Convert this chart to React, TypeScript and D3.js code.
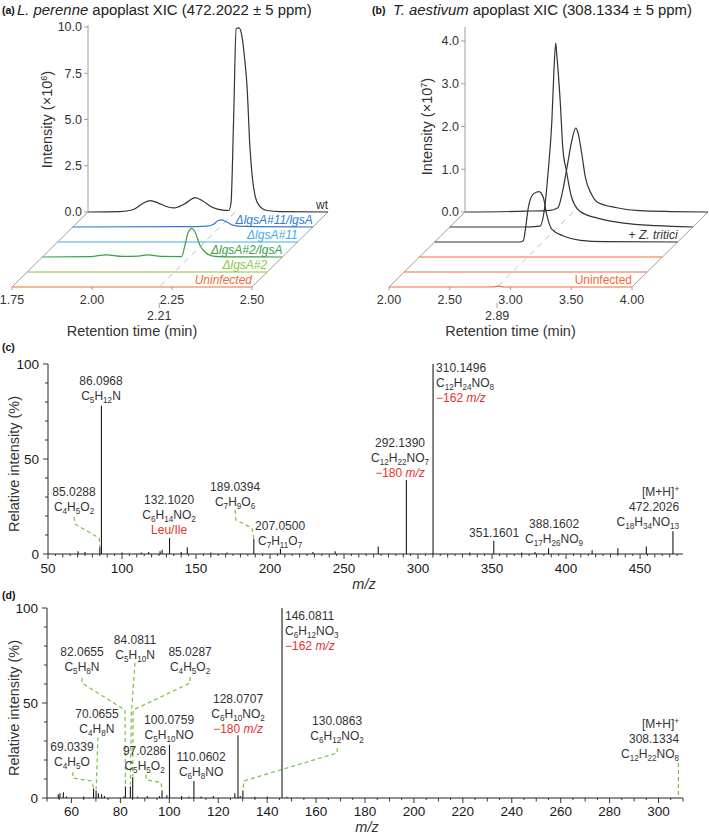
import React from "react";
import * as d3 from "d3";

type Pt = [number, number];

const FONT = "'Liberation Sans', Arial, Helvetica, sans-serif";
const INK = "#333333";
const RED = "#e8322c";
const GREEN = "#7cc242";
const ORANGE = "#f26a3d";
const AXIS_GREY = "#a0a0a0";

// ---------------- Panel (a): L. perenne apoplast XIC (intensity x10^6) ----------------
const aLabels = ["wt", "ΔlgsA#11/lgsA", "ΔlgsA#11", "ΔlgsA#2/lgsA", "ΔlgsA#2", "Uninfected"];
const aWt: Pt[] = [[1.75, 0], [1.85, 0.02], [1.89, 0.12], [1.92, 0.45], [1.945, 0.62], [1.97, 0.48], [2.0, 0.27], [2.02, 0.22], [2.05, 0.42], [2.085, 0.78], [2.11, 0.58], [2.14, 0.24], [2.17, 0.1], [2.19, 0.08], [2.197, 0.5], [2.205, 5.0], [2.213, 9.9], [2.222, 9.95], [2.232, 9.4], [2.24, 8.2], [2.247, 6.8], [2.256, 3.5], [2.264, 1.8], [2.272, 0.9], [2.285, 0.35], [2.31, 0.08], [2.35, 0.02], [2.5, 0]];
const aComp11: Pt[] = [[1.75, 0], [2.1, 0.02], [2.17, 0.05], [2.19, 0.15], [2.205, 0.35], [2.215, 0.38], [2.23, 0.28], [2.25, 0.1], [2.28, 0.03], [2.5, 0]];
const aDel11: Pt[] = [[1.75, 0], [2.5, 0]];
const aComp2: Pt[] = [[1.75, 0], [1.9, 0.02], [1.95, 0.12], [2.0, 0.03], [2.05, 0.05], [2.08, 0.12], [2.12, 0.03], [2.185, 0.02], [2.195, 0.6], [2.205, 1.3], [2.217, 1.55], [2.227, 1.35], [2.242, 0.65], [2.258, 0.27], [2.283, 0.05], [2.32, 0.01], [2.5, 0]];
const aDel2: Pt[] = [[1.75, 0], [2.5, 0]];
const aUninf: Pt[] = [[1.75, 0], [2.5, 0]];
const aXTicks = [1.75, 2.0, 2.25, 2.5];
const aYTicks = [0, 2.5, 5, 7.5, 10];
const aMarkRT = 2.21;

// ---------------- Panel (b): T. aestivum apoplast XIC (intensity x10^7) ----------------
const bInf1: Pt[] = [[2, 0], [2.5, 0.02], [2.7, 0.04], [2.765, 0.1], [2.8, 0.44], [2.84, 1.05], [2.88, 1.68], [2.912, 1.96], [2.93, 1.85], [2.96, 1.38], [2.99, 0.82], [3.04, 0.42], [3.09, 0.23], [3.25, 0.1], [3.44, 0.03], [3.7, 0.01], [4, 0]];
const bInf2: Pt[] = [[2, 0], [2.6, 0], [2.742, 0.02], [2.78, 0.44], [2.81, 1.31], [2.84, 2.48], [2.857, 3.65], [2.872, 4.3], [2.88, 4.05], [2.91, 2.88], [2.93, 1.85], [2.96, 1.31], [3.0, 0.72], [3.07, 0.37], [3.24, 0.19], [3.43, 0.09], [3.7, 0.03], [4, 0]];
const bInf3: Pt[] = [[2, 0], [2.7, 0], [2.73, 0.03], [2.75, 0.35], [2.771, 0.8], [2.812, 1.12], [2.859, 1.18], [2.895, 1.04], [2.922, 0.65], [2.964, 0.3], [3.06, 0.14], [3.2, 0.04], [3.4, 0.01], [4, 0]];
const bUn1: Pt[] = [[2, 0], [4, 0]];
const bUn2: Pt[] = [[2, 0], [4, 0]];
const bUn3: Pt[] = [[2, 0], [2.85, 0], [2.9, 0.02], [2.95, 0], [4, 0]];
const bXTicks = [2.0, 2.5, 3.0, 3.5, 4.0];
const bYTicks = [0, 1, 2, 3, 4];
const bMarkRT = 2.89;

// ---------------- Panel (c): MS/MS of 472.2026 ----------------
const cPeaks: Pt[] = [[70.3, 1.5], [75, 1], [85.03, 3.5], [86.0968, 78], [100, 0.8], [113, 0.8], [118, 1], [125.7, 1.5], [127.1, 2.2], [132.102, 8.5], [140, 1], [144.1, 3.5], [160, 0.8], [171, 0.8], [189.0394, 8], [207.05, 2.8], [229, 1], [244, 1.5], [273.1, 4], [292.139, 39], [310.1496, 100], [335, 0.8], [351.1601, 7], [370, 0.8], [379, 1], [388.1602, 3], [417.6, 2], [435, 3], [454.2, 4], [472.2026, 12]];
const cAnnots = [
  { at: [85.8, 91.1], align: "middle", lines: ["86.0968", "=C5H12N"] },
  { at: [67.6, 32.6], align: "middle", lines: ["85.0288", "=C4H5O2"] },
  { at: [131.8, 28.4], align: "middle", lines: ["132.1020", "=C6H14NO2", "!Leu/Ile"] },
  { at: [176.4, 35.3], align: "middle", lines: ["189.0394", "=C7H9O6"] },
  { at: [206.8, 14.7], align: "middle", lines: ["207.0500", "=C7H11O7"] },
  { at: [287.8, 58.4], align: "middle", lines: ["292.1390", "=C12H22NO7", "!−180 *m/z*"] },
  { at: [312.2, 97.9], align: "start", lines: ["310.1496", "=C12H24NO8", "!−162 *m/z*"] },
  { at: [351.4, 11.1], align: "middle", lines: ["351.1601"] },
  { at: [391.9, 15.8], align: "middle", lines: ["388.1602", "=C17H26NO9"] },
  { at: [476.4, 32.6], align: "end", lines: ["^[M+H]+", "472.2026", "=C18H34NO13"] },
];
const cLeaders: Pt[][] = [
  [[67.6, 19.5], [68.2, 15.8], [84.6, 8.4], [85.03, 3.5]],
  [[176.4, 23.2], [177, 17.9], [187.8, 13.7], [189.04, 8.4]],
];
const cXTicks = [50, 100, 150, 200, 250, 300, 350, 400, 450];

// ---------------- Panel (d): MS/MS of 308.1334 ----------------
const dPeaks: Pt[] = [[54.6, 2], [55.3, 2.5], [56.7, 3], [58, 0.8], [65, 0.8], [69.0339, 5], [70.0655, 4], [71, 2.5], [72.3, 2], [73.5, 1], [81.5, 0.8], [82.0655, 6], [84.0811, 6], [85.0287, 11], [87, 0.7], [91, 1], [96, 1], [97.0286, 4], [99, 1.5], [100.0759, 28], [105, 1], [108, 0.8], [110.0602, 9], [113, 0.8], [118, 1], [126.8, 2.5], [128.0707, 33], [129, 1], [130.0863, 4], [135, 0.6], [140, 0.8], [146.0811, 100], [148, 0.6]];
const dAnnots = [
  { at: [147.3, 95.8], align: "start", lines: ["146.0811", "=C6H12NO3", "!−162 *m/z*"] },
  { at: [86.0, 83.2], align: "middle", lines: ["84.0811", "=C5H10N"] },
  { at: [64.3, 76.8], align: "middle", lines: ["82.0655", "=C5H8N"] },
  { at: [108.5, 76.8], align: "middle", lines: ["85.0287", "=C4H5O2"] },
  { at: [70.4, 44.2], align: "middle", lines: ["70.0655", "=C4H8N"] },
  { at: [60.2, 26.8], align: "middle", lines: ["69.0339", "=C4H5O"] },
  { at: [89.9, 25.0], align: "middle", lines: ["97.0286", "=C5H5O2"] },
  { at: [99.9, 41.1], align: "middle", lines: ["100.0759", "=C5H10NO"] },
  { at: [113.0, 21.6], align: "middle", lines: ["110.0602", "=C6H8NO"] },
  { at: [128.1, 52.1], align: "middle", lines: ["128.0707", "=C6H10NO2", "!−180 *m/z*"] },
  { at: [168.6, 40.5], align: "middle", lines: ["130.0863", "=C6H12NO2"] },
  { at: [308.4, 38.9], align: "end", lines: ["^[M+H]+", "308.1334", "=C12H22NO8"] },
];
const dLeaders: Pt[][] = [
  [[86.0, 71.1], [84.5, 45.3], [84.08, 7]],
  [[64.3, 63.2], [64.3, 60.5], [81.9, 46.3], [82.07, 6.5]],
  [[108.5, 63.7], [108.5, 60.5], [85.2, 46.3], [85.03, 11.5]],
  [[70.8, 32], [70.2, 8], [70.07, 4.5]],
  [[60.6, 13.7], [60.6, 10.5], [68.4, 8.9], [69.03, 5.3]],
  [[90.5, 12.2], [90.5, 9.6], [96.6, 8.2], [97.03, 4.2]],
  [[168.6, 26.3], [168.6, 23.7], [130.5, 9], [130.09, 4.2]],
  [[308.13, 18.4], [308.13, 0.5]],
];
const dXTicks = [60, 80, 100, 120, 140, 160, 180, 200, 220, 240, 260, 280, 300];

// ---------------- helpers ----------------
type Seg = { t: string; sub?: boolean; sup?: boolean; it?: boolean };

function parseLine(s: string): { segs: Seg[]; color: string } {
  if (s.startsWith("=")) {
    const parts = s.slice(1).match(/[A-Z][a-z]?\d*/g) || [];
    const segs: Seg[] = [];
    parts.forEach((p) => {
      const m = p.match(/^([A-Z][a-z]?)(\d*)$/);
      if (m) {
        segs.push({ t: m[1] });
        if (m[2]) segs.push({ t: m[2], sub: true });
      }
    });
    return { segs, color: INK };
  }
  if (s.startsWith("!")) {
    const segs: Seg[] = s
      .slice(1)
      .split("*")
      .map((p, i) => ({ t: p, it: i % 2 === 1 }))
      .filter((g) => g.t.length > 0);
    return { segs, color: RED };
  }
  if (s.startsWith("^")) {
    return { segs: [{ t: s.slice(1, -1) }, { t: s.slice(-1), sup: true }], color: INK };
  }
  return { segs: [{ t: s }], color: INK };
}

function RichText({ x, y, anchor, s, fs }: { x: number; y: number; anchor: string; s: string; fs: number }) {
  const { segs, color } = parseLine(s);
  let cur = 0;
  return (
    <text x={x} y={y} textAnchor={anchor as any} fill={color} fontSize={fs} fontFamily={FONT}>
      {segs.map((g, i) => {
        const target = g.sub ? 3 : g.sup ? -4.5 : 0;
        const dy = target - cur;
        cur = target;
        return (
          <tspan key={i} dy={dy} fontSize={g.sub || g.sup ? fs * 0.68 : fs} fontStyle={g.it ? "italic" : "normal"}>
            {g.t}
          </tspan>
        );
      })}
    </text>
  );
}

// ---------------- XIC (pseudo-3D stacked) panel ----------------
function Xic(props: {
  xDomain: [number, number];
  yMax: number;
  backX: [number, number];
  baseY: number;
  yTopPx: number;
  axisTop: number;
  step: [number, number];
  traces: Pt[][];
  colors: string[];
  labels: React.ReactNode[];
  xTicks: number[];
  yTicks: number[];
  yFmt: (n: number) => string;
  mark: number;
  yTitleX: number;
  exponent: string;
}) {
  const { xDomain, yMax, backX, baseY, yTopPx, axisTop, step, traces, colors, labels, xTicks, yTicks, yFmt, mark, yTitleX, exponent } = props;
  const x = d3.scaleLinear().domain(xDomain).range(backX);
  const y = d3.scaleLinear().domain([0, yMax]).range([baseY, yTopPx]);
  const n = traces.length;
  const [dx, dy] = step;
  const fdx = (n - 1) * dx;
  const fdy = (n - 1) * dy;
  const frontY = baseY + fdy;
  const fmtX = d3.format(".2f");
  const x0 = x(xDomain[0]);
  const x1 = x(xDomain[1]);
  return (
    <g>
      {/* plane edges */}
      <line x1={x0} y1={baseY} x2={x0 + fdx} y2={frontY} stroke={AXIS_GREY} strokeWidth={1} />
      <line x1={x1} y1={baseY} x2={x1 + fdx} y2={frontY} stroke={AXIS_GREY} strokeWidth={1} />
      <line x1={x0} y1={baseY} x2={x0} y2={axisTop} stroke={AXIS_GREY} strokeWidth={1} />
      {/* marker dashed line */}
      <line x1={x(mark)} y1={baseY} x2={x(mark) + fdx} y2={frontY} stroke="#bdbdbd" strokeWidth={1} strokeDasharray="6,5" />
      {/* y ticks */}
      {yTicks.map((t) => (
        <g key={t}>
          <line x1={x0 - 4} x2={x0} y1={y(t)} y2={y(t)} stroke={AXIS_GREY} />
          <text x={x0 - 6} y={y(t)} dy="0.35em" textAnchor="end" fontSize={12.5} fontFamily={FONT} fill={INK}>
            {yFmt(t)}
          </text>
        </g>
      ))}
      {/* y title */}
      <text
        transform={`translate(${yTitleX},${(baseY + yTopPx) / 2}) rotate(-90)`}
        textAnchor="middle"
        dy="0.35em"
        fontSize={14.5}
        fontFamily={FONT}
        fill={INK}
      >
        Intensity (×10
        <tspan dy={-5} fontSize={9}>
          {exponent}
        </tspan>
        <tspan dy={5}>)</tspan>
      </text>
      {/* traces */}
      {traces.map((tr, i) => {
        const gen = d3
          .line<Pt>()
          .x((d) => x(d[0]) + i * dx)
          .y((d) => y(d[1]) + i * dy)
          .curve(d3.curveMonotoneX);
        return <path key={i} d={gen(tr) || ""} fill="none" stroke={colors[i]} strokeWidth={1.2} />;
      })}
      {/* trace labels */}
      {labels.map((lab, i) =>
        lab ? (
          <text key={i} x={x1 + i * dx} y={baseY + i * dy - 3.5} textAnchor="end" fontSize={12} fontFamily={FONT} fill={colors[i]}>
            {lab}
          </text>
        ) : null
      )}
      {/* x ticks on front edge */}
      {xTicks.map((t) => (
        <g key={t}>
          <line x1={x(t) + fdx} x2={x(t) + fdx} y1={frontY} y2={frontY + 3} stroke={AXIS_GREY} />
          <text x={x(t) + fdx} y={frontY + 16.5} textAnchor="middle" fontSize={12.5} fontFamily={FONT} fill={INK}>
            {fmtX(t)}
          </text>
        </g>
      ))}
      <line x1={x(mark) + fdx} x2={x(mark) + fdx} y1={frontY + 16} y2={frontY + 21} stroke={AXIS_GREY} />
      <text x={x(mark) + fdx} y={frontY + 32.5} textAnchor="middle" fontSize={12.5} fontFamily={FONT} fill={INK}>
        {fmtX(mark)}
      </text>
      <text x={(x0 + x1) / 2 + fdx} y={frontY + 49} textAnchor="middle" fontSize={14.5} fontFamily={FONT} fill={INK}>
        Retention time (min)
      </text>
    </g>
  );
}

// ---------------- Spectrum panel ----------------
function Spectrum(props: {
  domain: [number, number];
  range: [number, number];
  y0: number;
  y100: number;
  peaks: Pt[];
  annots: { at: number[]; align: string; lines: string[] }[];
  leaders: Pt[][];
  xTicks: number[];
  majorEvery: number;
  titleX: number;
  titleDy: number;
  tickDy: number;
}) {
  const { domain, range, y0, y100, peaks, annots, leaders, xTicks, majorEvery, titleX, titleDy, tickDy } = props;
  const x = d3.scaleLinear().domain(domain).range(range);
  const y = d3.scaleLinear().domain([0, 100]).range([y0, y100]);
  const minor = d3.range(domain[0], domain[1] + 0.001, 5);
  const yMinor = d3.range(0, 100.001, 10);
  const lg = d3
    .line<Pt>()
    .x((d) => x(d[0]))
    .y((d) => y(d[1]));
  return (
    <g>
      {/* axes */}
      <line x1={range[0]} x2={range[1]} y1={y(0)} y2={y(0)} stroke="#222" strokeWidth={1} />
      <line x1={range[0]} x2={range[0]} y1={y(0)} y2={y(100)} stroke="#222" strokeWidth={1} />
      {minor.map((t) => {
        const len = t % majorEvery === 0 ? 5 : t % 10 === 0 ? 3.5 : 2;
        return <line key={t} x1={x(t)} x2={x(t)} y1={y(0)} y2={y(0) + len} stroke="#222" strokeWidth={0.9} />;
      })}
      {xTicks.map((t) => (
        <text key={t} x={x(t)} y={y(0) + tickDy} textAnchor="middle" fontSize={13.5} fontFamily={FONT} fill="#1a1a1a">
          {t}
        </text>
      ))}
      {yMinor.map((t) => (
        <line key={t} x1={range[0] - (t % 50 === 0 ? 5 : 3)} x2={range[0]} y1={y(t)} y2={y(t)} stroke="#222" strokeWidth={0.9} />
      ))}
      {[0, 50, 100].map((t) => (
        <text key={t} x={range[0] - 9} y={y(t)} dy="0.35em" textAnchor="end" fontSize={13.5} fontFamily={FONT} fill="#1a1a1a">
          {t}
        </text>
      ))}
      <text
        transform={`translate(14,${(y0 + y100) / 2 + 5}) rotate(-90)`}
        textAnchor="middle"
        dy="0.35em"
        fontSize={14.5}
        fontFamily={FONT}
        fill={INK}
      >
        Relative intensity (%)
      </text>
      <text x={titleX} y={y(0) + titleDy} textAnchor="middle" fontSize={14.5} fontStyle="italic" fontFamily={FONT} fill={INK}>
        m/z
      </text>
      {/* leaders */}
      {leaders.map((l, i) => (
        <path key={i} d={lg(l) || ""} fill="none" stroke={GREEN} strokeWidth={1.2} strokeDasharray="4,3" />
      ))}
      {/* peaks */}
      {peaks.map((p, i) => (
        <line key={i} x1={x(p[0])} x2={x(p[0])} y1={y(0)} y2={y(p[1])} stroke="#1a1a1a" strokeWidth={1.1} />
      ))}
      {/* annotations */}
      {annots.map((a, i) => (
        <g key={i}>
          {a.lines.map((s, j) => (
            <RichText key={j} x={x(a.at[0])} y={y(a.at[1]) + 4.3 + j * 15} anchor={a.align} s={s} fs={12} />
          ))}
        </g>
      ))}
    </g>
  );
}

export default function App() {
  const aColors = ["#333333", "#2f7cd3", "#45ace6", "#39a047", "#8dc63f", ORANGE];
  const bColors = ["#333333", "#333333", "#333333", ORANGE, ORANGE, ORANGE];
  const aLab = aLabels.map((l, i) => (i === 0 ? l : <tspan fontStyle="italic">{l}</tspan>));
  const bLab: React.ReactNode[] = [
    null,
    null,
    <>
      <tspan>+ </tspan>
      <tspan fontStyle="italic">Z. tritici</tspan>
    </>,
    null,
    null,
    "Uninfected",
  ];
  return (
    <svg width={709} height={834} style={{ position: "absolute", left: 0, top: 0, background: "#fff" }} fontFamily={FONT}>
      <rect x={0} y={0} width={709} height={834} fill="#fff" />
      {/* titles */}
      <text x={2} y={14} fontSize={10.5} fontWeight="bold" fill="#111" fontFamily={FONT}>
        (a)
      </text>
      <text x={17} y={15} fontSize={14.9} fill="#222" fontFamily={FONT}>
        <tspan fontStyle="italic">L. perenne</tspan> apoplast XIC (472.2022 ± 5 ppm)
      </text>
      <text x={372} y={14} fontSize={10.5} fontWeight="bold" fill="#111" fontFamily={FONT}>
        (b)
      </text>
      <text x={393} y={15} fontSize={14.9} fill="#222" fontFamily={FONT}>
        <tspan fontStyle="italic">T. aestivum</tspan> apoplast XIC (308.1334 ± 5 ppm)
      </text>
      <text x={2} y={351} fontSize={10.5} fontWeight="bold" fill="#111" fontFamily={FONT}>
        (c)
      </text>
      <text x={2} y={599} fontSize={10.5} fontWeight="bold" fill="#111" fontFamily={FONT}>
        (d)
      </text>

      <Xic
        xDomain={[1.75, 2.5]}
        yMax={10}
        backX={[88, 328]}
        baseY={212}
        yTopPx={27}
        axisTop={25}
        step={[-15.2, 15]}
        traces={[aWt, aComp11, aDel11, aComp2, aDel2, aUninf]}
        colors={aColors}
        labels={aLab}
        xTicks={aXTicks}
        yTicks={aYTicks}
        yFmt={d3.format(".1f")}
        mark={aMarkRT}
        yTitleX={47}
        exponent="6"
      />
      <Xic
        xDomain={[2.0, 4.0]}
        yMax={4}
        backX={[465, 708]}
        baseY={212}
        yTopPx={41}
        axisTop={27}
        step={[-15.2, 15]}
        traces={[bInf1, bInf2, bInf3, bUn1, bUn2, bUn3]}
        colors={bColors}
        labels={bLab}
        xTicks={bXTicks}
        yTicks={bYTicks}
        yFmt={d3.format(".1f")}
        mark={bMarkRT}
        yTitleX={427}
        exponent="7"
      />
      <Spectrum
        domain={[50, 479]}
        range={[48, 683]}
        y0={554}
        y100={364}
        peaks={cPeaks}
        annots={cAnnots}
        leaders={cLeaders}
        xTicks={cXTicks}
        majorEvery={50}
        titleX={364}
        titleDy={35}
        tickDy={19}
      />
      <Spectrum
        domain={[50, 310]}
        range={[47, 683]}
        y0={798}
        y100={608}
        peaks={dPeaks}
        annots={dAnnots}
        leaders={dLeaders}
        xTicks={dXTicks}
        majorEvery={20}
        titleX={367}
        titleDy={34}
        tickDy={18}
      />
    </svg>
  );
}
